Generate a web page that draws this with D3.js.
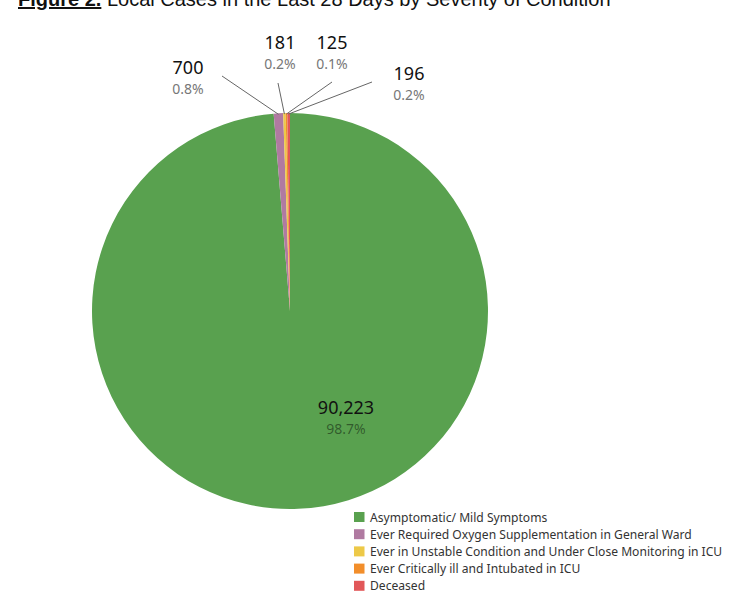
<!DOCTYPE html>
<html>
<head>
<meta charset="utf-8">
<script src="https://cdn.jsdelivr.net/npm/d3@7"></script>
<style>
  body { margin: 0; background: #fff; }
  svg { display: block; }
</style>
</head>
<body>
<script>
// data
var categories = [
  "Asymptomatic/ Mild Symptoms",
  "Ever Required Oxygen Supplementation in General Ward",
  "Ever in Unstable Condition and Under Close Monitoring in ICU",
  "Ever Critically ill and Intubated in ICU",
  "Deceased"
];
var caseCounts = [90223, 700, 181, 125, 196];
var pctLabels = ["98.7%", "0.8%", "0.2%", "0.1%", "0.2%"];

// styling / layout
var colors = ["#59a14f", "#b07aa1", "#edc948", "#f28e2b", "#e15759"];
// where each label sits (first one is inside the big slice)
var labelPos = [[346, 414], [188, 74], [280, 49], [332, 49], [409, 80]];
var leaderStart = [null, [222, 76], [278, 83], [332, 82], [372, 82]];

var width = 747, height = 598;
var cx = 290, cy = 311, radius = 198;

var svg = d3.select("body").append("svg")
  .attr("width", width)
  .attr("height", height);

// title (cut at the top like the source)
var title = svg.append("text")
  .attr("x", 18)
  .attr("y", 6)
  .attr("font-family", "Liberation Sans, Arial, sans-serif")
  .attr("font-size", 20)
  .attr("fill", "#111");
title.append("tspan")
  .attr("font-weight", "bold")
  .attr("text-decoration", "underline")
  .text("Figure 2.");
title.append("tspan").text(" Local Cases in the Last 28 Days by Severity of Condition");

var pie = d3.pie().sort(null).value(d => d);
var arcs = pie(caseCounts);
var arc = d3.arc().innerRadius(0).outerRadius(radius);

var g = svg.append("g").attr("transform", `translate(${cx},${cy})`);

g.selectAll("path")
  .data(arcs)
  .enter()
  .append("path")
  .attr("d", arc)
  .attr("fill", (d, i) => colors[i]);

var fmt = d3.format(",");
var font = "Noto Sans, Open Sans, sans-serif";

// leader lines from labels to slice edge
arcs.forEach(function(d, i) {
  if (!leaderStart[i]) return;
  var a = (d.startAngle + d.endAngle) / 2;
  var ex = cx + Math.sin(a) * (radius - 1);
  var ey = cy - Math.cos(a) * (radius - 1);
  svg.append("line")
    .attr("x1", leaderStart[i][0]).attr("y1", leaderStart[i][1])
    .attr("x2", ex).attr("y2", ey)
    .attr("stroke", "#666")
    .attr("stroke-width", 1);
});

// labels
arcs.forEach(function(d, i) {
  var x = labelPos[i][0], y = labelPos[i][1];
  svg.append("text")
    .attr("x", x).attr("y", y)
    .attr("text-anchor", "middle")
    .attr("font-family", font)
    .attr("font-size", 18)
    .attr("fill", "#111")
    .text(fmt(caseCounts[i]));
  svg.append("text")
    .attr("x", x).attr("y", y + 20)
    .attr("text-anchor", "middle")
    .attr("font-family", font)
    .attr("font-size", 14)
    .attr("fill", leaderStart[i] ? "#777" : "rgba(0,0,0,0.45)")
    .text(pctLabels[i]);
});

// legend
var legend = svg.append("g").attr("transform", "translate(354,512)");
var rows = legend.selectAll("g")
  .data(categories)
  .enter()
  .append("g")
  .attr("transform", (d, i) => `translate(0, ${i * 17.2})`);
rows.append("rect")
  .attr("width", 10.5).attr("height", 10)
  .attr("fill", (d, i) => colors[i]);
rows.append("text")
  .attr("x", 16)
  .attr("y", 9.5)
  .attr("font-family", font)
  .attr("font-size", 12.1)
  .attr("fill", "#333")
  .text(d => d);
</script>
</body>
</html>
